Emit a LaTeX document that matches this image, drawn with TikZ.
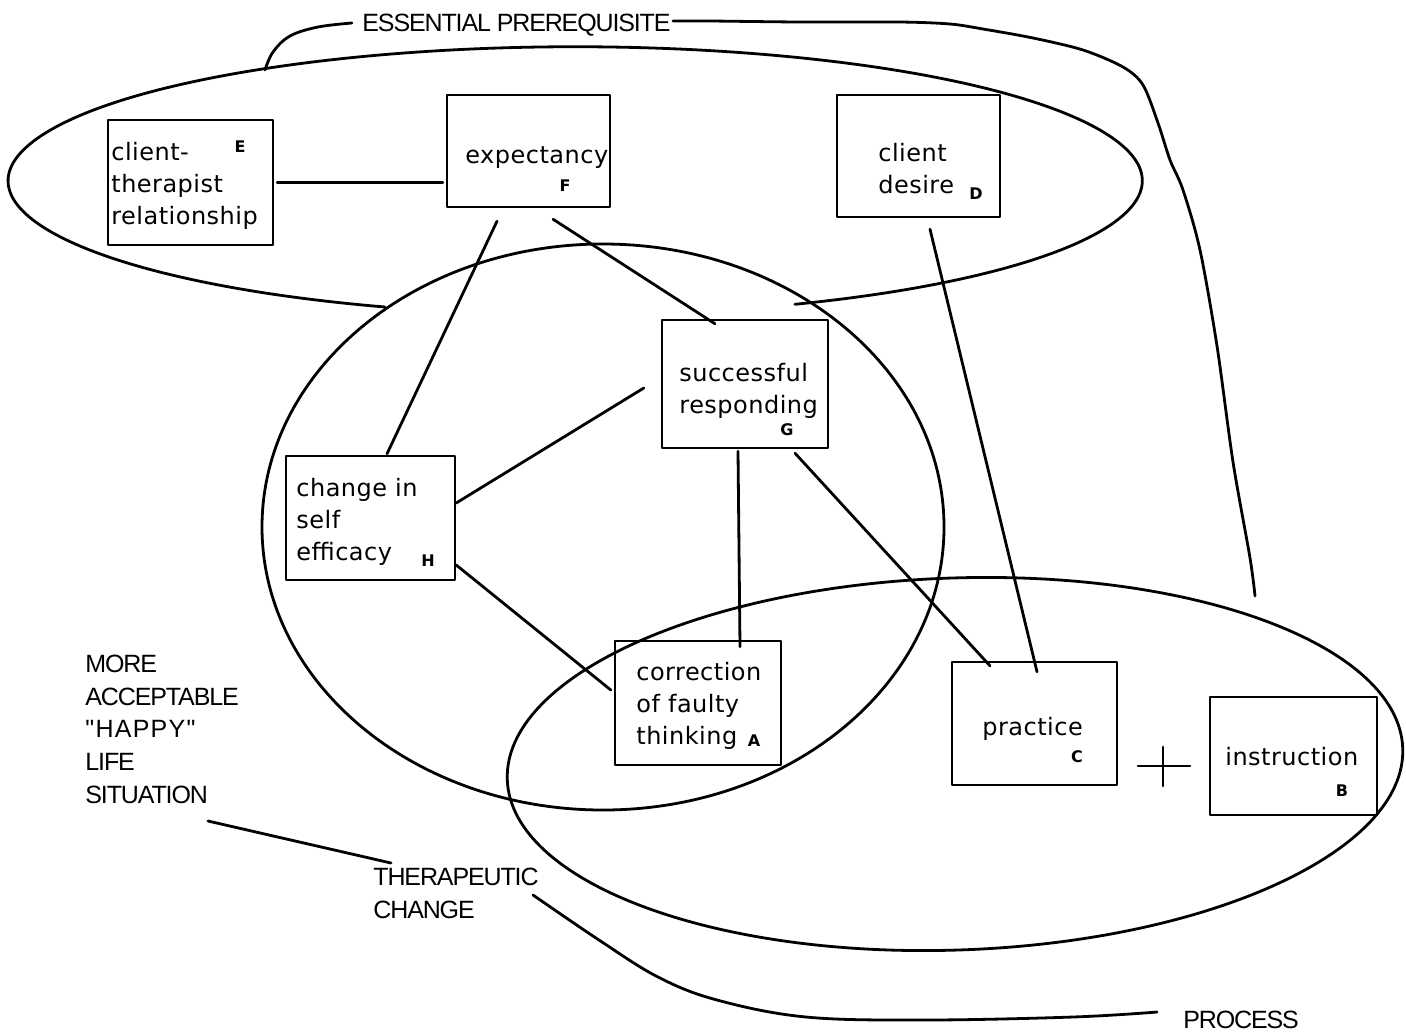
\documentclass[tikz,border=0pt]{standalone}
\usepackage{fontspec}
\newfontfamily\boxfont[LetterSpace=2]{DejaVu Sans}
\newfontfamily\capsfont[LetterSpace=-4.5]{Liberation Sans}
\newfontfamily\markfont{DejaVu Sans}
\usetikzlibrary{calc}

\tikzset{
  every picture/.style={line join=round, line cap=round},
  factorbox/.style 2 args={draw, line width=1.2pt, inner sep=0pt,
    minimum width=#1*0.5pt, minimum height=#2*0.5pt},
  % multi-line texts are placed by the baseline of their last line
  boxtext/.style={inner sep=0pt, align=left, anchor=base west,
    font=\boxfont\fontsize{12}{16}\selectfont},
  captext/.style={inner sep=0pt, align=left, anchor=base west,
    font=\capsfont\fontsize{12.5}{16.3}\selectfont},
  tag/.style={inner sep=0pt, font=\markfont\bfseries\fontsize{8}{8}\selectfont},
  link/.style={line width=1.4pt},
  outline/.style={line width=1.4pt},
}

\begin{document}
\begin{tikzpicture}[x=0.5pt, y=-0.5pt]
  % canvas
  \fill[white] (0,0) rectangle (1406,1034);
  \useasboundingbox (0,0) rectangle (1406,1034);

  % regions
  \draw[outline] (385,307) arc[start angle=109.6, end angle=427.2,
      x radius=567, y radius=134];
  \draw[outline] (603,527) ellipse[x radius=341, y radius=283];
  \draw[outline, rotate around={2:(955,764)}] (955,764)
      ellipse[x radius=448, y radius=186];

  % factor boxes
  \node[factorbox={165}{125}, fill=white] (E) at (190.5,182.5) {};
  \node[factorbox={163}{112}, fill=white] (F) at (528.5,151) {};
  \node[factorbox={163}{122}] (D) at (918.5,156) {};
  \node[factorbox={166}{128}] (G) at (745,384) {};
  \node[factorbox={169}{124}] (H) at (370.5,518) {};
  \node[factorbox={166}{124}] (A) at (698,703) {};
  \node[factorbox={165}{123}] (C) at (1034.5,723.5) {};
  \node[factorbox={167}{118}] (B) at (1293.5,756) {};

  % box texts
  \node[boxtext] (Et) at (111,224) {client-\\therapist\\relationship};
  \node[boxtext] (Ft) at (465,163) {expectancy};
  \node[boxtext] (Dt) at (878,193) {client\\desire};
  \node[boxtext] (Gt) at (679,413) {successful\\responding};
  \node[boxtext] (Ht) at (296,560) {change in\\self\\efficacy};
  \node[boxtext] (At) at (636,744) {correction\\of faulty\\thinking};
  \node[boxtext] (Ct) at (982,735) {practice};
  \node[boxtext] (Bt) at (1225,765) {instruction};

  % letter tags
  \node[tag] (Em) at (240,147) {E};
  \node[tag] (Fm) at (565,186) {F};
  \node[tag] (Dm) at (976,194) {D};
  \node[tag] (Gm) at (787,430) {G};
  \node[tag] (Hm) at (428,561) {H};
  \node[tag] (Am) at (754,741) {A};
  \node[tag] (Cm) at (1077,757) {C};
  \node[tag] (Bm) at (1342,791) {B};

  % connections
  \draw[link, shorten <=1.5pt, shorten >=1.5pt] (E.east) -- (E.east -| F.west);
  \draw[link] ([shift={(-31.5,13)}]F.south) -- ([shift={(16.5,-1)}]H.north);
  \draw[link] ([shift={(24.5,11)}]F.south) -- ([shift={(-30,5)}]G.north);
  \draw[link] ([shift={(0,-15)}]H.east) -- ([shift={(-17,4)}]G.west);
  \draw[link] ([shift={(0,47)}]H.east) -- ([shift={(-3,-13)}]A.west);
  \draw[link] ([shift={(-7,2)}]G.south) -- ([shift={(42,7)}]A.north);
  \draw[link] ([shift={(50,4)}]G.south) -- ([shift={(-44.5,5)}]C.north);
  \draw[link] ([shift={(11.5,11)}]D.south) -- ([shift={(2.5,11)}]C.north);

  % plus sign between practice and instruction
  \coordinate (plus) at (1163,766);
  \draw[link] ([shift={(-25,0)}]plus) -- ([shift={(27,0)}]plus);
  \draw[link] ([shift={(0,-19)}]plus) -- ([shift={(0,20)}]plus);

  % captions
  \node[captext] (EP) at (362,31) {ESSENTIAL PREREQUISITE};
  \node[captext] (MO) at (85,803)
    {MORE\\ACCEPTABLE\\{\addfontfeature{LetterSpace=5}"HAPPY"}\\LIFE\\SITUATION};
  \node[captext] (TC) at (373,918) {THERAPEUTIC\\CHANGE};
  \node[captext] (PR) at (1183,1028) {PROCESS};

  % brace lines for the captions
  \draw[outline] plot[smooth, tension=0.6] coordinates
    {(265,70) (273,52) (290,36) (318,27) (352,23)};
  \draw[outline] plot[smooth, tension=0.5] coordinates
    {(673,21) (710,21) (800,22) (900,22) (950,24) (983,29) (1033,38)
     (1083,50) (1123,67) (1143,85) (1158,123) (1170,160) (1183,190)
     (1200,250) (1217,346) (1233,462) (1250,558) (1255,596)};
  \draw[link] (208,821) -- (391,863);
  \draw[outline] plot[smooth, tension=0.6] coordinates
    {(533,895) (599,940) (658,977) (717,1000) (806,1017) (925,1020)
     (1073,1017) (1157,1012)};
\end{tikzpicture}
\end{document}
